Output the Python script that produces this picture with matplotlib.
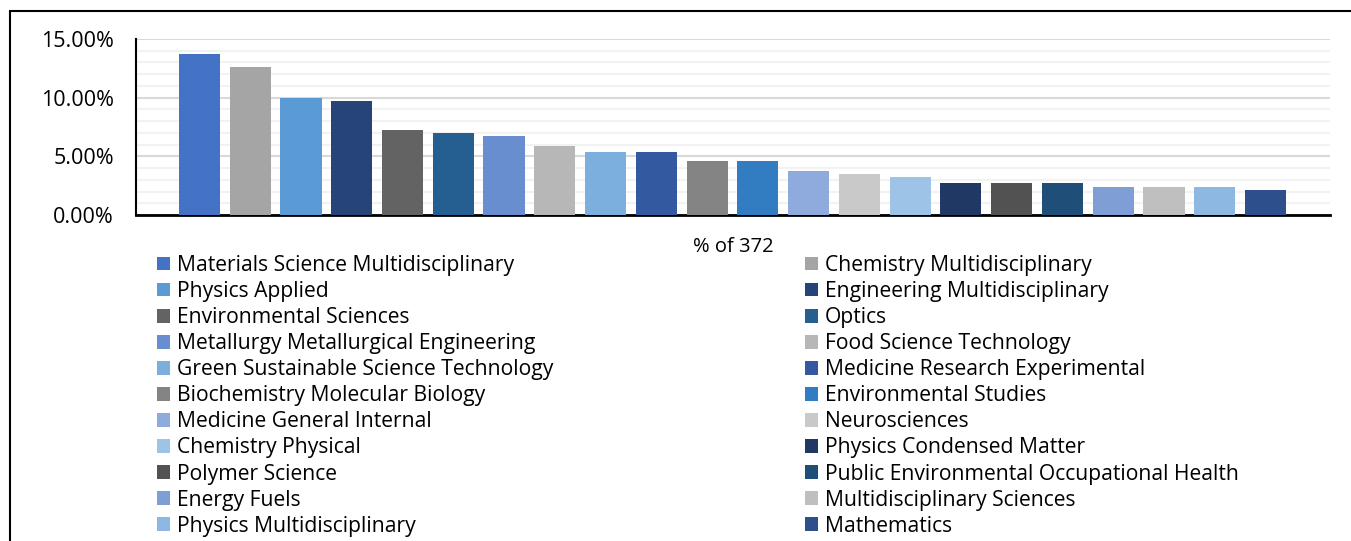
import matplotlib
matplotlib.use("Agg")
import matplotlib.pyplot as plt
from matplotlib.patches import Rectangle, Patch
from matplotlib.ticker import MultipleLocator, PercentFormatter

categories = [
    "Materials Science Multidisciplinary", "Chemistry Multidisciplinary",
    "Physics Applied", "Engineering Multidisciplinary",
    "Environmental Sciences", "Optics",
    "Metallurgy Metallurgical Engineering", "Food Science Technology",
    "Green Sustainable Science Technology", "Medicine Research Experimental",
    "Biochemistry Molecular Biology", "Environmental Studies",
    "Medicine General Internal", "Neurosciences",
    "Chemistry Physical", "Physics Condensed Matter",
    "Polymer Science", "Public Environmental Occupational Health",
    "Energy Fuels", "Multidisciplinary Sciences",
    "Physics Multidisciplinary", "Mathematics",
]
percent_values = [13.71, 12.63, 9.95, 9.68, 7.26, 6.99, 6.72, 5.91, 5.38, 5.38,
                  4.57, 4.57, 3.76, 3.49, 3.23, 2.69, 2.69, 2.69, 2.42, 2.42,
                  2.42, 2.15]
colors = ["#4472C4", "#A5A5A5", "#5B9BD5", "#264478", "#636363", "#255E91",
          "#698ED0", "#B7B7B7", "#7CAFDD", "#335AA1", "#848484", "#327DC2",
          "#8FAADC", "#C9C9C9", "#9DC3E6", "#203864", "#525252", "#1F4E79",
          "#7F9ED5", "#BFBFBF", "#8DB8E2", "#2D508C"]
x_label = "% of 372"

plt.rcParams['font.family'] = ['Open Sans', 'DejaVu Sans']

W, H = 1351, 541
fig = plt.figure(figsize=(W / 100, H / 100), dpi=100)

# outer border
fig.patches.append(Rectangle((10 / W, -0.1), 1.2, 1 - 11 / H + 0.1,
                             transform=fig.transFigure, fill=False,
                             edgecolor="black", linewidth=1.5))

ax = fig.add_axes([136 / W, 1 - 215 / H, (1330 - 136) / W, (215 - 39) / H])
x = list(range(len(categories)))
bars = ax.bar(x, percent_values, width=0.81, color=colors, zorder=3)
ax.set_xlim(-1.25, 22.27)
ax.set_ylim(0, 15)
ax.yaxis.set_major_locator(MultipleLocator(5))
ax.yaxis.set_minor_locator(MultipleLocator(1))
ax.yaxis.set_major_formatter(PercentFormatter(decimals=2))
ax.grid(axis="y", which="major", color="#D9D9D9", linewidth=1.5, zorder=0)
ax.grid(axis="y", which="minor", color="#F2F2F2", linewidth=1.5, zorder=0)
ax.set_xticks([])
ax.tick_params(axis="y", which="both", length=0, labelsize=15.5, pad=16)
for s in ["top", "right"]:
    ax.spines[s].set_visible(False)
ax.spines["left"].set_linewidth(1.5)
ax.spines["bottom"].set_linewidth(2)
ax.set_xlabel(x_label, fontsize=14.5, labelpad=16)

handles = [Patch(facecolor=c, edgecolor="none") for c in colors]
leg_kw = dict(frameon=False, fontsize=15.2, handlelength=0.62, handleheight=0.62,
              handletextpad=0.33, labelspacing=0.24, borderpad=0, borderaxespad=0,
              loc="upper left")
left = fig.legend(handles[0::2], categories[0::2],
                  bbox_to_anchor=(157 / W, 1 - 255 / H), **leg_kw)
right = fig.legend(handles[1::2], categories[1::2],
                   bbox_to_anchor=(805 / W, 1 - 255 / H), **leg_kw)

fig.savefig("out.png", dpi=100)
